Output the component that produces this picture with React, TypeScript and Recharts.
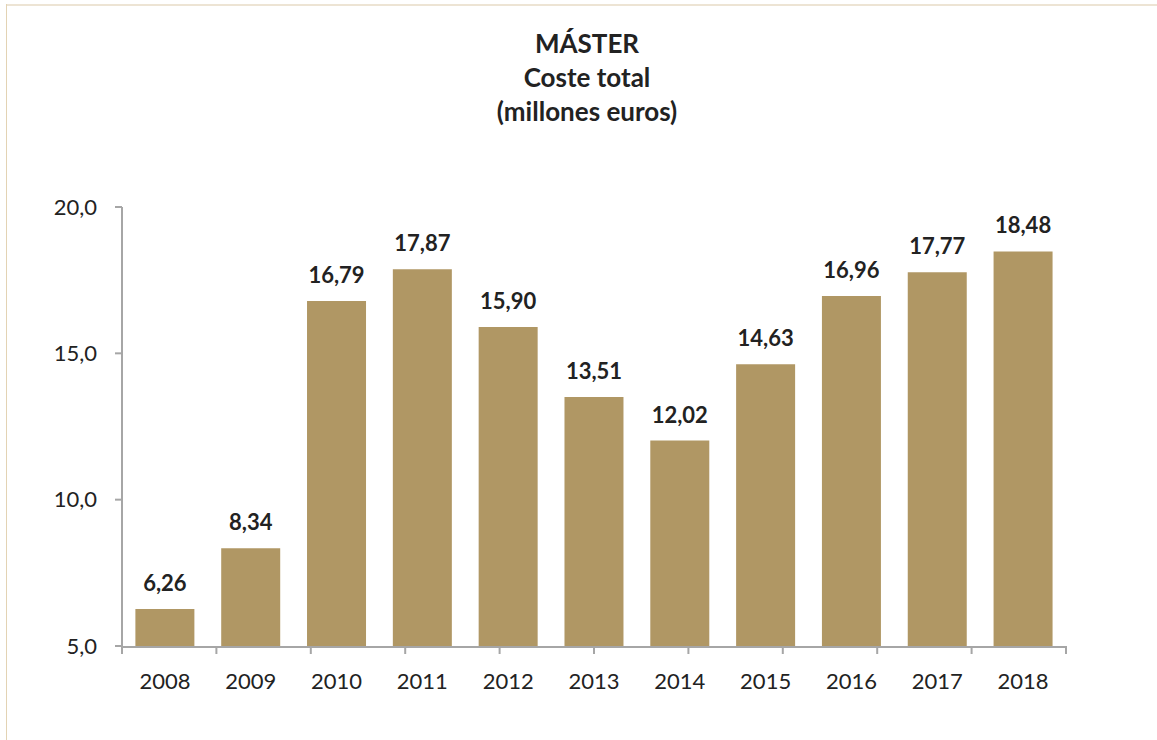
import React from 'react';
import { BarChart, Bar, XAxis, YAxis, LabelList } from 'recharts';

const years = ['2008', '2009', '2010', '2011', '2012', '2013', '2014', '2015', '2016', '2017', '2018'];
const costs = [6.26, 8.34, 16.79, 17.87, 15.9, 13.51, 12.02, 14.63, 16.96, 17.77, 18.48];
const yTicks = [5, 10, 15, 20];
const boundaryTicks = [0, 1, 2, 3, 4, 5, 6, 7, 8, 9, 10, 11];
const titleLines = ['MÁSTER', 'Coste total', '(millones euros)'];

const data = years.map((y, i) => ({ year: y, value: costs[i] }));

const FONT = 'Lato, "Open Sans", sans-serif';
const TEXT = '#222222';
const AXIS = '#a6a6a6';
const BAR = '#b09764';

const comma = (v: number, d: number) => v.toFixed(d).replace('.', ',');

export default function App() {
  return (
    <div style={{ position: 'absolute', left: 0, top: 0, width: 1157, height: 740, background: '#fff', fontFamily: FONT }}>
      <div style={{ position: 'absolute', left: 6, top: 4, width: 1151, height: 2, background: '#ede4d4' }} />
      <div style={{ position: 'absolute', left: 6, top: 4, width: 1, height: 736, background: '#e3d3b4' }} />
      <div
        style={{
          position: 'absolute',
          left: 387,
          top: 26,
          width: 400,
          textAlign: 'center',
          fontWeight: 700,
          fontSize: 26,
          lineHeight: '34px',
          color: TEXT,
        }}
      >
        {titleLines.map((t) => (
          <div key={t}>{t}</div>
        ))}
      </div>
      <div style={{ position: 'absolute', left: 0, top: 0 }}>
        <BarChart
          width={1157}
          height={740}
          data={data}
          margin={{ top: 207, right: 91, bottom: 53, left: 0 }}
          barCategoryGap="15.6%"
        >
          <XAxis
            dataKey="year"
            xAxisId="cat"
            height={40}
            axisLine={{ stroke: AXIS, strokeWidth: 2 }}
            tickLine={false}
            tick={{ fill: TEXT, fontSize: 22, fontFamily: FONT }}
            tickMargin={20}
            interval={0}
          />
          <XAxis
            xAxisId="bounds"
            type="number"
            domain={[0, 11]}
            ticks={boundaryTicks}
            interval={0}
            height={1}
            axisLine={false}
            tickLine={{ stroke: AXIS, strokeWidth: 2 }}
            tickSize={8}
            tick={{ fontSize: 1, fill: 'none' }}
            tickFormatter={() => ''}
            orientation="bottom"
          />
          <YAxis
            width={122}
            domain={[5, 20]}
            ticks={yTicks}
            interval={0}
            allowDataOverflow
            axisLine={{ stroke: AXIS, strokeWidth: 2 }}
            tickLine={{ stroke: AXIS, strokeWidth: 2 }}
            tickSize={7}
            tickMargin={18}
            tick={{ fill: TEXT, fontSize: 22, fontFamily: FONT }}
            tickFormatter={(v: number) => comma(v, 1)}
          />
          <Bar dataKey="value" xAxisId="cat" fill={BAR} isAnimationActive={false}>
            <LabelList
              dataKey="value"
              position="top"
              offset={18}
              formatter={(v: number) => comma(v, 2)}
              style={{ fill: TEXT, fontSize: 22, fontWeight: 700, fontFamily: FONT }}
            />
          </Bar>
        </BarChart>
      </div>
    </div>
  );
}
